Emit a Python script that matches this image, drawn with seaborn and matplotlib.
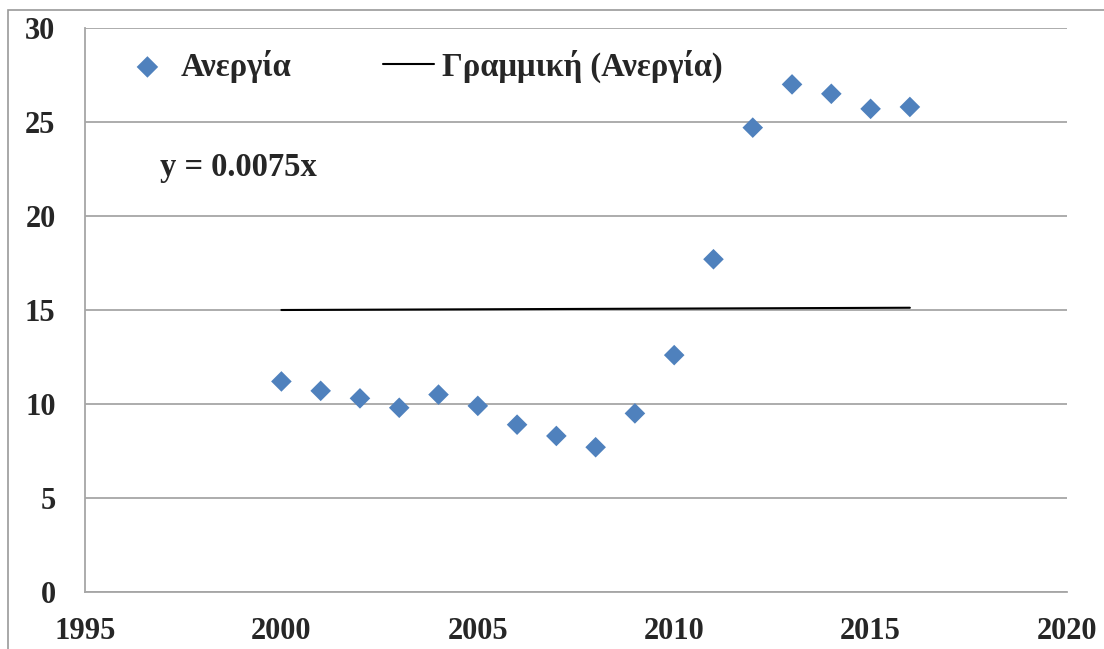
import matplotlib
matplotlib.use("Agg")
import matplotlib.pyplot as plt
import numpy as np
import pandas as pd
import seaborn as sns
from matplotlib.patches import Rectangle

years = [2000, 2001, 2002, 2003, 2004, 2005, 2006, 2007, 2008,
         2009, 2010, 2011, 2012, 2013, 2014, 2015, 2016]
unemployment = [11.2, 10.7, 10.3, 9.8, 10.5, 9.9, 8.9, 8.3, 7.7,
                9.5, 12.6, 17.7, 24.7, 27.0, 26.5, 25.7, 25.8]
trend_slope = 0.0075
series_label = "Ανεργία"
trend_label = "Γραμμική (Ανεργία)"
x_ticks = [1995, 2000, 2005, 2010, 2015, 2020]
y_ticks = [0, 5, 10, 15, 20, 25, 30]

df = pd.DataFrame({"year": years, "value": unemployment})
trend = pd.DataFrame({"year": [years[0], years[-1]]})
trend["value"] = trend_slope * trend["year"]

sns.set_style("white")
plt.rcParams["font.family"] = ["Liberation Serif", "DejaVu Serif"]
plt.rcParams["font.weight"] = "bold"

fig = plt.figure(figsize=(11.04, 6.49), dpi=100)
ax = fig.add_axes([85 / 1104, 1 - 592 / 649, (1067 - 85) / 1104, (592 - 28) / 649])

# outer chart-area frame
fig.patches.append(Rectangle((8 / 1104, -0.05), 1.1, 1.05 - 10 / 649,
                             transform=fig.transFigure, fill=False,
                             edgecolor="#9a9a9a", linewidth=1.2))

sns.scatterplot(data=df, x="year", y="value", ax=ax, marker="D", s=110,
                color="#4F81BD", edgecolor="none", label=series_label, zorder=3)
sns.lineplot(data=trend, x="year", y="value", ax=ax, color="black",
             linewidth=1.5, label=trend_label, zorder=2)

ax.set_xlim(1995, 2020)
ax.set_ylim(0, 30)
ax.set_xticks(x_ticks)
ax.set_yticks(y_ticks)
ax.set_xlabel("")
ax.set_ylabel("")
ax.yaxis.grid(True, color="#a6a6a6", linewidth=1.3)
ax.set_axisbelow(True)
for side in ["top", "right"]:
    ax.spines[side].set_visible(False)
for side in ["left", "bottom"]:
    ax.spines[side].set_color("#a6a6a6")
    ax.spines[side].set_linewidth(1.3)
ax.tick_params(axis="both", direction="out", length=7.2, width=1.3,
               color="#a6a6a6", labelsize=22)
ax.tick_params(axis="x", pad=11)
ax.tick_params(axis="y", pad=14)
for lbl in ax.get_xticklabels() + ax.get_yticklabels():
    lbl.set_fontweight("bold")

leg = ax.legend(ncol=2, loc="upper left", bbox_to_anchor=(0.0245, 0.985),
                frameon=False, fontsize=23.5, handlelength=1.55,
                handletextpad=0.25, columnspacing=2.8, borderaxespad=0,
                scatterpoints=1)
leg.legend_handles[0].set_sizes([120])
for t in leg.get_texts():
    t.set_fontweight("bold")

ax.text(0.076, 0.752, "y = 0.0075x", transform=ax.transAxes, fontsize=23.5,
        fontweight="bold", va="center", ha="left")

fig.savefig("out.png", dpi=100)
